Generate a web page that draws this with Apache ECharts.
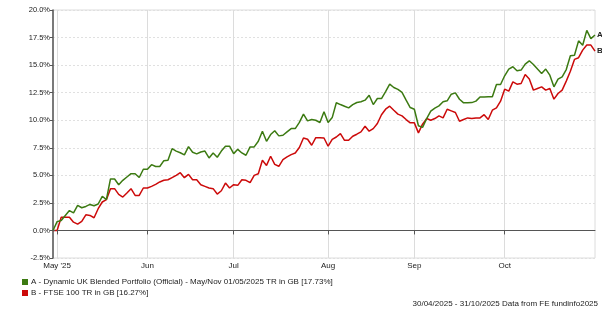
<!DOCTYPE html>
<html>
<head>
<meta charset="utf-8">
<script src="https://cdn.jsdelivr.net/npm/echarts@6/dist/echarts.min.js"></script>
<style>
html,body{margin:0;padding:0;background:#fff;}
#chart{width:602px;height:312px;}
</style>
</head>
<body>
<div id="chart"></div>
<script>
// Weekday dates from 30/04/2025 to 31/10/2025
const startDate = '2025-04-30';
const endDate = '2025-10-31';
const monthNames = ['Jan','Feb','Mar','Apr','May','Jun','Jul','Aug','Sep','Oct','Nov','Dec'];
const categories = [];
(function(){
  let d = new Date(startDate + 'T00:00:00Z');
  const e = new Date(endDate + 'T00:00:00Z');
  while (d <= e) {
    const wd = d.getUTCDay();
    if (wd !== 0 && wd !== 6) categories.push(d.toISOString().slice(0,10));
    d = new Date(d.getTime() + 86400000);
  }
})();

const seriesAName = 'A - Dynamic UK Blended Portfolio (Official) - May/Nov 01/05/2025 TR in GB [17.73%]';
const seriesBName = 'B - FTSE 100 TR in GB [16.27%]';

const seriesA = [
  0, 0.8, 0.9, 1.36, 1.8, 1.6, 2.27, 2.06, 2.18, 2.36,
  2.24, 2.4, 3.1, 2.8, 4.67, 4.67, 4.15, 4.55, 4.85, 5.15,
  5.15, 4.8, 5.55, 5.55, 5.97, 5.8, 5.8, 6.33, 6.36, 7.42,
  7.2, 7.05, 6.85, 7.6, 7.1, 6.95, 7.12, 7.2, 6.58, 7.03,
  6.64, 7.2, 7.64, 7.64, 6.97, 7.36, 7.03, 6.82, 7.58, 7.58,
  8.09, 9.0, 8.09, 8.7, 9.05, 8.58, 8.64, 8.94, 9.24, 9.24,
  9.8, 10.55, 9.94, 10.06, 10.0, 9.79, 10.76, 9.79, 10.24, 11.58,
  11.42, 11.27, 11.12, 11.42, 11.61, 11.67, 11.82, 12.27, 11.42, 11.97,
  11.97, 12.6, 13.27, 12.97, 12.8, 12.52, 11.82, 11.15, 11.0, 9.5,
  9.35, 10.15, 10.82, 11.1, 11.3, 11.67, 11.76, 12.36, 12.48, 11.9,
  11.58, 11.58, 11.6, 11.73, 12.1, 12.1, 12.12, 12.12, 13.24, 13.24,
  14.03, 14.64, 14.85, 14.48, 14.55, 15.09, 15.39, 15.06, 14.64, 14.24,
  14.64, 14.09, 13.03, 13.73, 13.94, 14.6, 15.85, 15.9, 17.2, 16.8,
  18.15, 17.4, 17.73
];
const seriesB = [
  0, 0, 1.2, 1.2, 1.2, 0.75, 0.57, 0.82, 1.42, 1.36,
  1.15, 1.97, 2.58, 2.79, 3.79, 3.79, 3.27, 3.03, 3.4, 3.79,
  3.18, 3.18, 3.85, 3.85, 4.0, 4.18, 4.4, 4.55, 4.6, 4.8,
  5.0, 5.24, 4.79, 5.09, 4.6, 4.6, 4.15, 4.0, 3.85, 3.79,
  3.3, 3.6, 4.3, 3.85, 4.15, 4.09, 4.6, 4.55, 4.33, 5.0,
  5.15, 6.36, 5.9, 6.73, 6.0, 5.82, 6.42, 6.67, 6.88, 7.03,
  7.52, 8.39, 8.27, 7.73, 8.42, 8.42, 8.39, 7.64, 8.27, 8.48,
  8.79, 8.18, 8.18, 8.55, 8.73, 8.94, 9.45, 9.0, 9.24, 9.7,
  10.5, 11.0, 11.27, 10.9, 10.55, 10.39, 10.06, 9.76, 9.76, 8.85,
  9.64, 10.15, 10.0, 10.15, 10.39, 10.21, 11.0, 10.85, 10.7, 9.91,
  10.06, 10.21, 10.15, 10.21, 10.21, 10.5, 10.06, 10.91, 11.12, 11.73,
  12.82, 12.64, 13.48, 13.27, 13.33, 14.15, 13.73, 12.73, 12.88, 13.03,
  12.73, 12.88, 11.91, 12.42, 12.73, 13.55, 14.45, 15.52, 15.67, 16.36,
  16.82, 16.82, 16.27
];
const endLabels = ['A', 'B'];
const yTicks = { min: -2.5, max: 20, interval: 2.5 };
const footerText = '30/04/2025 - 31/10/2025 Data from FE fundinfo2025';

const colorA = '#3c7a12';
const colorB = '#cc0a0a';

function isMonthStart(i) {
  if (i === 0) return false;
  return categories[i].slice(5,7) !== categories[i-1].slice(5,7);
}
function monthLabel(val) {
  const m = parseInt(val.slice(5,7), 10) - 1;
  const y = val.slice(2,4);
  return m === 4 ? monthNames[m] + " '" + y : monthNames[m];
}

const chart = echarts.init(document.getElementById('chart'), null, {renderer: 'canvas'});
const font = 'Liberation Sans, Arial, sans-serif';
chart.setOption({
  animation: false,
  textStyle: { fontFamily: font },
  title: {
    text: footerText,
    right: 4,
    top: 300,
    padding: 0,
    textStyle: { fontSize: 8, fontWeight: 'normal', color: '#222', fontFamily: font }
  },
  legend: {
    orient: 'vertical',
    left: 22,
    top: 278,
    padding: 0,
    itemGap: 3,
    itemWidth: 6,
    itemHeight: 6,
    icon: 'rect',
    textStyle: { fontSize: 8, color: '#222', fontFamily: font, padding: [0,0,0,-2] },
    data: [seriesAName, seriesBName]
  },
  grid: {
    left: 53, right: 7, top: 10, bottom: 54,
    show: true, borderColor: '#dcdcdc', borderWidth: 1,
    containLabel: false
  },
  xAxis: {
    type: 'category',
    data: categories,
    boundaryGap: false,
    axisLine: { show: true, lineStyle: { color: '#555', width: 1 } },
    axisTick: { show: true, interval: (i) => isMonthStart(i), length: 4, lineStyle: { color: '#555' } },
    axisLabel: {
      interval: (i) => isMonthStart(i),
      formatter: monthLabel,
      fontSize: 8, color: '#222', margin: 4, fontFamily: font
    },
    splitLine: { show: true, interval: (i) => isMonthStart(i), lineStyle: { color: '#dcdcdc', width: 1 } }
  },
  yAxis: {
    type: 'value',
    min: yTicks.min, max: yTicks.max, interval: yTicks.interval,
    axisLine: { show: true, lineStyle: { color: '#555', width: 1.5 } },
    axisTick: { show: true, length: 3, lineStyle: { color: '#555' } },
    axisLabel: { formatter: (v) => v.toFixed(1) + '%', fontSize: 7.5, color: '#222', margin: 3, fontFamily: font },
    splitLine: { show: true, lineStyle: { color: '#e0e0e0', type: [2, 2], width: 1 } }
  },
  series: [
    {
      name: seriesAName,
      type: 'line',
      data: seriesA,
      showSymbol: false,
      symbol: 'none',
      lineStyle: { color: colorA, width: 1.5 },
      itemStyle: { color: colorA },
      z: 3,
      endLabel: { show: true, formatter: endLabels[0], fontSize: 8, fontWeight: 'bold', color: '#222', distance: 2 },
      markLine: {
        silent: true, symbol: 'none', label: { show: false },
        lineStyle: { color: '#555', type: [2, 2], width: 1 },
        data: [{ yAxis: 0 }]
      }
    },
    {
      name: seriesBName,
      type: 'line',
      data: seriesB,
      showSymbol: false,
      symbol: 'none',
      lineStyle: { color: colorB, width: 1.5 },
      itemStyle: { color: colorB },
      z: 2,
      endLabel: { show: true, formatter: endLabels[1], fontSize: 8, fontWeight: 'bold', color: '#222', distance: 2 }
    }
  ]
});
</script>
</body>
</html>
